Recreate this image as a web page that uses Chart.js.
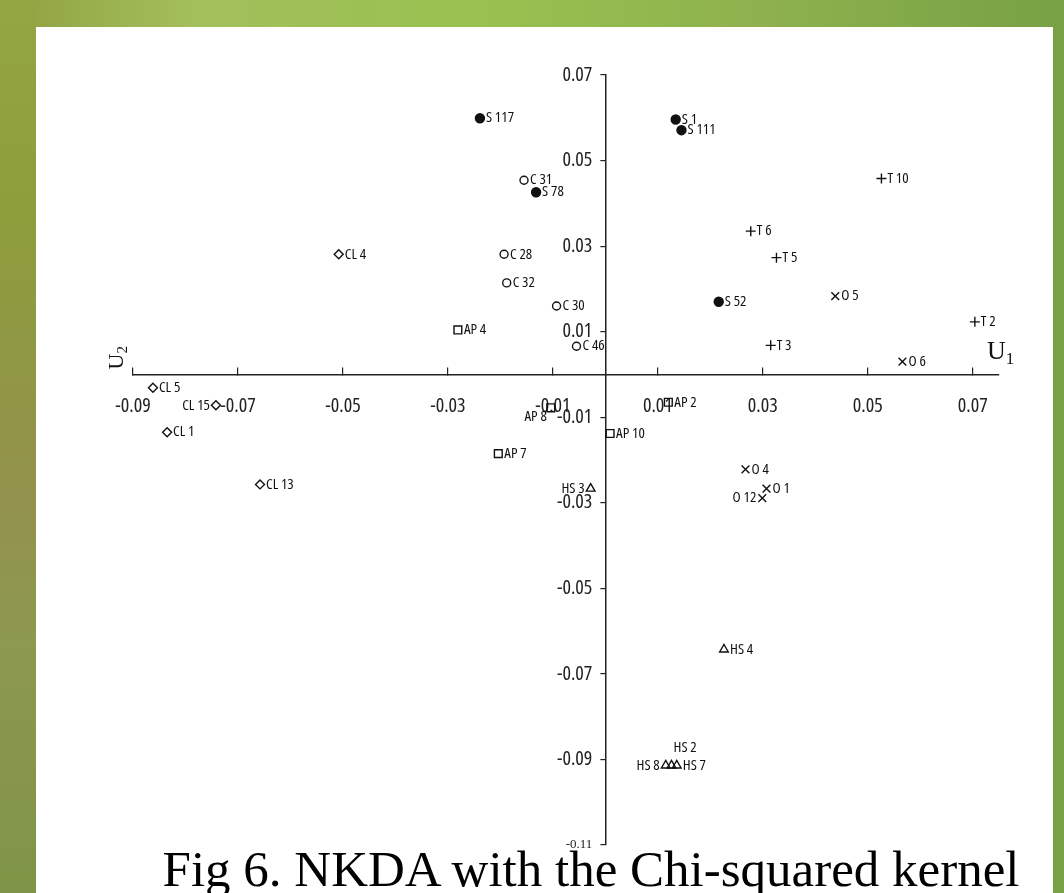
<!DOCTYPE html>
<html>
<head>
<meta charset="utf-8">
<title>Fig 6. NKDA with the Chi-squared kernel</title>
<script src="https://cdn.jsdelivr.net/npm/chart.js@4.4.0/dist/chart.umd.min.js"></script>
<style>
  html, body { margin: 0; padding: 0; }
  body {
    width: 1064px; height: 893px; position: relative; overflow: hidden;
    background: linear-gradient(to right, #90a042 0%, #a3bf5c 18%, #99c150 45%, #8fb24e 70%, #77a144 100%);
  }
  #leftStrip {
    position: absolute; left: 0; top: 0; width: 36px; height: 893px;
    background: linear-gradient(to bottom, #94a544 0%, #8d9d3c 25%, #93924c 55%, #8d9850 72%, #7f9446 100%);
  }
  #panel { position: absolute; left: 36px; top: 27px; width: 1017px; height: 866px; background: #fff; }
  #wrap { position: absolute; left: 0; top: 0; width: 1064px; height: 893px; }
  #caption {
    position: absolute; top: 844px; left: 591px; transform: translateX(-50%);
    font: 51px/51px "Liberation Serif", "Times New Roman", serif; color: #000; white-space: nowrap;
  }
</style>
</head>
<body>
<div id="leftStrip"></div>
<div id="panel"></div>
<div id="wrap"><canvas id="nkda" width="1064" height="893"></canvas></div>
<div id="caption">Fig 6. NKDA with the Chi-squared kernel</div>
<script>
// tick labels
const xTicks = [-0.09, -0.07, -0.05, -0.03, -0.01, 0.01, 0.03, 0.05, 0.07];
const yTicks = [0.07, 0.05, 0.03, 0.01, -0.01, -0.03, -0.05, -0.07, -0.09, -0.11];

// groups (U1, U2)
const sNames = ['S 117', 'S 1', 'S 111', 'S 78', 'S 52'];
const sU1 = [-0.0239, 0.0134, 0.0145, -0.0132, 0.0216];
const sU2 = [0.0599, 0.0596, 0.0571, 0.0426, 0.0170];

const cNames = ['C 31', 'C 28', 'C 32', 'C 30', 'C 46'];
const cU1 = [-0.0155, -0.0193, -0.0188, -0.0093, -0.0055];
const cU2 = [0.0454, 0.0281, 0.0214, 0.0160, 0.0066];

const clNames = ['CL 4', 'CL 5', 'CL 15', 'CL 1', 'CL 13'];
const clU1 = [-0.0508, -0.0862, -0.0742, -0.0835, -0.0658];
const clU2 = [0.0281, -0.0031, -0.0072, -0.0135, -0.0257];

const apNames = ['AP 4', 'AP 2', 'AP 8', 'AP 10', 'AP 7'];
const apU1 = [-0.0281, 0.0120, -0.0104, 0.0009, -0.0204];
const apU2 = [0.0104, -0.0065, -0.0078, -0.0138, -0.0185];

const tNames = ['T 10', 'T 6', 'T 5', 'T 3', 'T 2'];
const tU1 = [0.0526, 0.0277, 0.0326, 0.0315, 0.0704];
const tU2 = [0.0458, 0.0335, 0.0273, 0.0068, 0.0123];

const oNames = ['O 5', 'O 6', 'O 4', 'O 1', 'O 12'];
const oU1 = [0.0438, 0.0566, 0.0267, 0.0307, 0.0299];
const oU2 = [0.0183, 0.0030, -0.0222, -0.0267, -0.0289];

const hsNames = ['HS 3', 'HS 4', 'HS 2', 'HS 8', 'HS 7'];
const hsU1 = [-0.0028, 0.0226, 0.0126, 0.0115, 0.0136];
const hsU2 = [-0.0267, -0.0643, -0.0914, -0.0914, -0.0914];

// where a label sits when it is not to the right of its point
const labelPlace = { 'HS 3': 'left', 'O 12': 'left', 'CL 15': 'left', 'HS 8': 'left', 'HS 2': 'above', 'AP 8': 'belowLeft' };

// Open Sans has a width axis, "condensed" gives a narrow face like the original
const narrow = '"Open Sans", "Liberation Sans Narrow", Arial, sans-serif';

function group(names, u1, u2, style, radius, filled) {
    return {
        names: names,
        data: u1.map((v, i) => ({ x: v, y: u2[i] })),
        pointStyle: style,
        pointRadius: radius,
        pointBorderWidth: 1.4,
        pointBorderColor: '#111',
        pointBackgroundColor: filled ? '#111' : 'rgba(255,255,255,0)',
        showLine: false,
        clip: false
    };
}

const pointLabels = {
    id: 'pointLabels',
    afterDatasetsDraw(chart) {
        const ctx = chart.ctx;
        ctx.save();
        ctx.font = 'condensed 15px ' + narrow;
        ctx.fillStyle = '#111';
        ctx.textBaseline = 'middle';
        chart.data.datasets.forEach((ds, i) => {
            chart.getDatasetMeta(i).data.forEach((pt, j) => {
                const name = ds.names[j];
                const place = labelPlace[name] || 'right';
                if (place === 'left') {
                    ctx.textAlign = 'right';
                    ctx.fillText(name, pt.x - 6, pt.y);
                } else if (place === 'above') {
                    ctx.textAlign = 'left';
                    ctx.fillText(name, pt.x + 2, pt.y - 18);
                } else if (place === 'belowLeft') {
                    ctx.textAlign = 'right';
                    ctx.fillText(name, pt.x - 4, pt.y + 9);
                } else {
                    ctx.textAlign = 'left';
                    ctx.fillText(name, pt.x + 6, pt.y);
                }
            });
        });
        ctx.restore();
    }
};

// move the U2 axis onto U1 = 0; its label strip reaches back to the canvas edge
const yAtZero = {
    id: 'yAtZero',
    afterLayout(chart) {
        const ys = chart.scales.y;
        const x0 = chart.scales.x.getPixelForValue(0);
        ys.left = 0;
        ys.right = x0;
    }
};

const axisNames = {
    id: 'axisNames',
    afterDraw(chart) {
        const ctx = chart.ctx;
        const xs = chart.scales.x, ys = chart.scales.y;
        const zeroY = ys.getPixelForValue(0);
        ctx.save();
        ctx.fillStyle = '#111';
        ctx.textBaseline = 'alphabetic';
        ctx.textAlign = 'left';
        // U1
        ctx.font = '26px "Liberation Serif", serif';
        const ux = xs.right - 12, uy = zeroY - 15;
        ctx.fillText('U', ux, uy);
        const w1 = ctx.measureText('U').width;
        ctx.font = '17px "Liberation Serif", serif';
        ctx.fillText('1', ux + w1, uy + 5);
        // U2, turned
        ctx.translate(xs.left - 10, zeroY - 5);
        ctx.rotate(-Math.PI / 2);
        ctx.font = '22px "Liberation Serif", serif';
        ctx.fillText('U', 0, 0);
        const w2 = ctx.measureText('U').width;
        ctx.font = '15px "Liberation Serif", serif';
        ctx.fillText('2', w2, 4);
        ctx.restore();
    }
};

function draw() {
    new Chart(document.getElementById('nkda'), {
        type: 'scatter',
        data: {
            datasets: [
                group(sNames, sU1, sU2, 'circle', 4.5, true),
                group(cNames, cU1, cU2, 'circle', 4, false),
                group(clNames, clU1, clU2, 'rectRot', 4.5, false),
                group(apNames, apU1, apU2, 'rect', 5.5, false),
                group(tNames, tU1, tU2, 'cross', 5, false),
                group(oNames, oU1, oU2, 'crossRot', 5.5, false),
                group(hsNames, hsU1, hsU2, 'triangle', 5, false)
            ]
        },
        options: {
            responsive: false,
            animation: false,
            layout: { padding: { left: 133, right: 65, top: 75, bottom: 48 } },
            plugins: { legend: { display: false }, tooltip: { enabled: false } },
            scales: {
                x: {
                    type: 'linear',
                    position: { y: 0 },
                    min: -0.09,
                    max: 0.075,
                    afterBuildTicks: axis => { axis.ticks = xTicks.map(v => ({ value: v })); },
                    afterFit: axis => { axis.height = 0; },
                    border: { display: true, color: '#222', width: 1.5 },
                    grid: { drawOnChartArea: false, drawTicks: true, tickLength: -8, color: '#222', lineWidth: 1.2 },
                    ticks: {
                        padding: 28,
                        color: '#222',
                        maxRotation: 0,
                        autoSkip: false,
                        font: { family: narrow, size: 20, weight: 'condensed' },
                        callback: v => String(v)
                    }
                },
                y: {
                    type: 'linear',
                    position: 'left',
                    min: -0.11,
                    max: 0.07,
                    afterBuildTicks: axis => { axis.ticks = yTicks.map(v => ({ value: v })); },
                    afterFit: axis => { axis.width = 0; },
                    border: { display: true, color: '#222', width: 1.5 },
                    grid: { drawOnChartArea: false, drawTicks: true, tickLength: 5, color: '#222', lineWidth: 1.2 },
                    ticks: {
                        padding: 8,
                        color: '#222',
                        autoSkip: false,
                        font: ctx => (ctx.tick && ctx.tick.value === -0.11)
                            ? { family: '"Liberation Serif", serif', size: 13 }
                            : { family: narrow, size: 20, weight: 'condensed' },
                        callback: v => String(v)
                    }
                }
            }
        },
        plugins: [yAtZero, pointLabels, axisNames]
    });
}

document.fonts.load('condensed 20px "Open Sans"').then(draw, draw);
</script>
</body>
</html>
